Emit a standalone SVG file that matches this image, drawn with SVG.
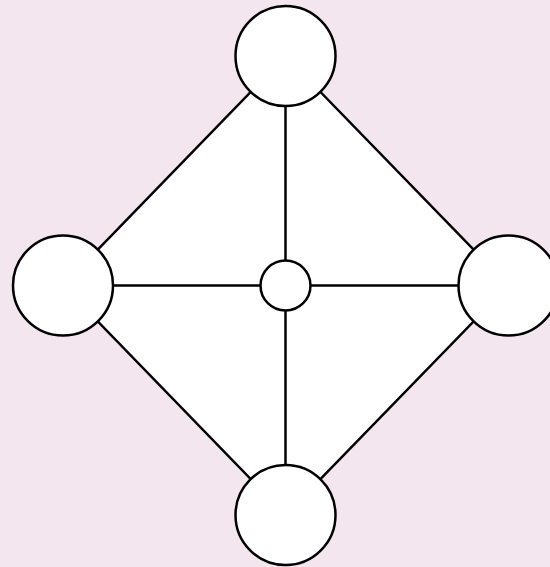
<svg xmlns="http://www.w3.org/2000/svg" width="550" height="567" viewBox="0 0 550 567">
<style>
.edge{stroke:#000;stroke-width:2.5;fill:none}
.node{fill:#fff;stroke:#000;stroke-width:2.5}
</style>
<rect width="550" height="567" fill="#f3e6ee"/>
<g id="connectors">
<polygon points="285.5,56 508.5,285.5 285.5,515 63,285.5" fill="#fff" stroke="#000" stroke-width="2.5"/>
<line class="edge" x1="285.5" y1="56" x2="285.5" y2="515"/>
<line class="edge" x1="63" y1="285.5" x2="508.5" y2="285.5"/>
</g>
<g id="top"><circle class="node" cx="285.5" cy="56" r="50"/></g>
<g id="left"><circle class="node" cx="63" cy="285.5" r="50"/></g>
<g id="right"><circle class="node" cx="508.5" cy="285.5" r="50"/></g>
<g id="bottom"><circle class="node" cx="285.5" cy="515" r="50"/></g>
<g id="center"><circle class="node" cx="285.5" cy="285.5" r="25"/></g>
</svg>
